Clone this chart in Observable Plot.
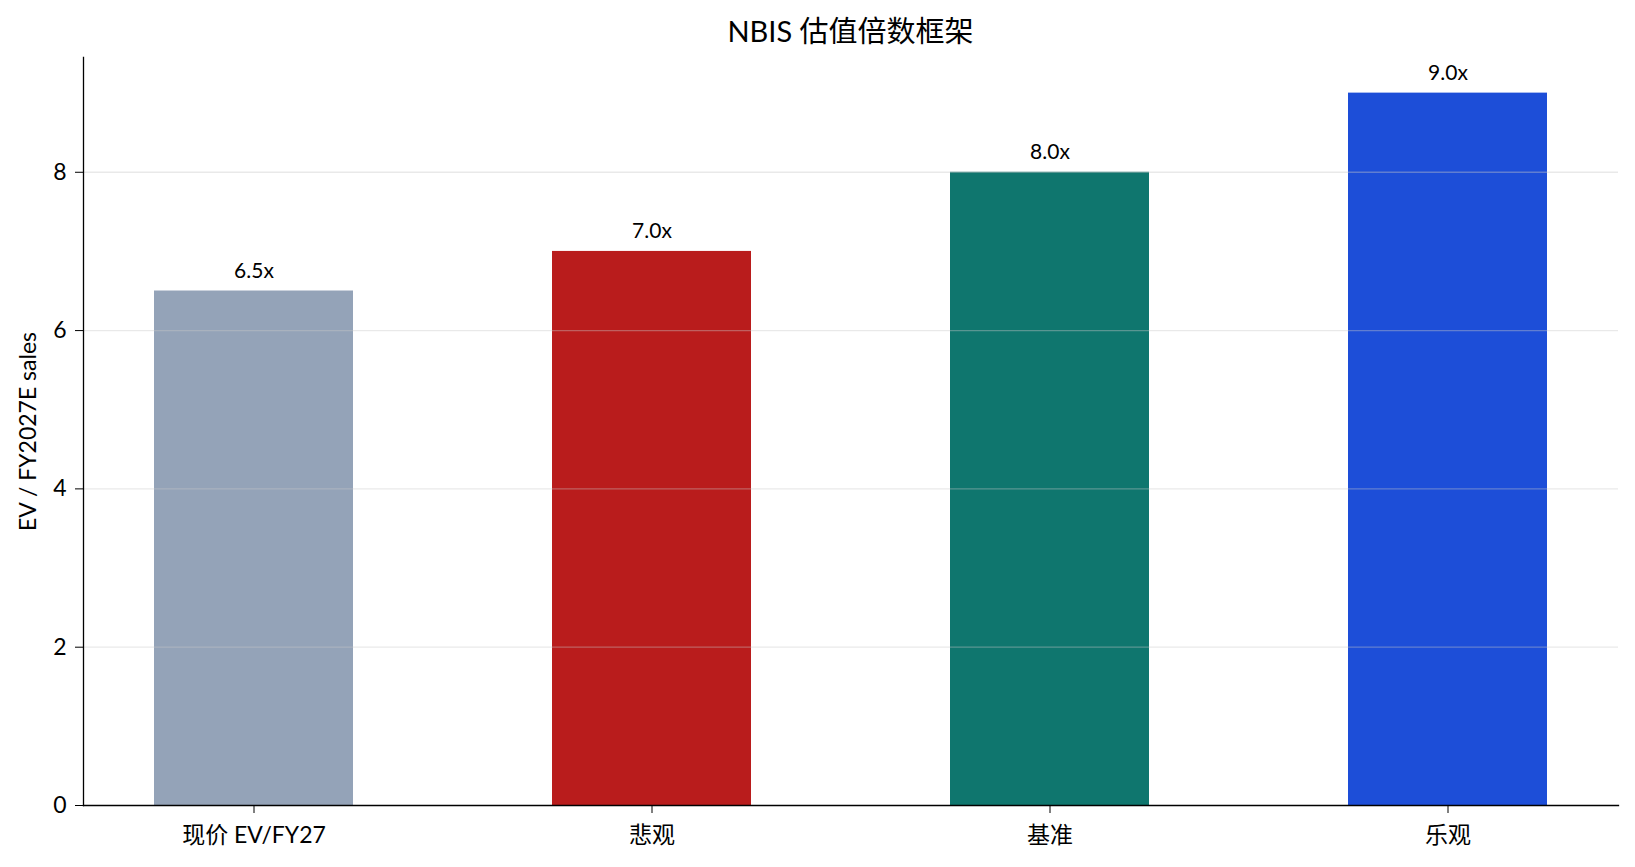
<!DOCTYPE html>
<html><head><meta charset="utf-8">
<script src="https://cdn.jsdelivr.net/npm/d3@7"></script>
<script src="https://cdn.jsdelivr.net/npm/@observablehq/plot@0.6"></script>
<style>
body{margin:0;background:#fff;font-family:Lato,"Noto Sans CJK SC",sans-serif;}
#title{height:50px;box-sizing:border-box;padding:16px 17px 0 83px;text-align:center;font-size:29px;line-height:30px;color:#000;}
</style></head><body>
<div id="title"></div>
<div id="chart"></div>
<script>
const title = "NBIS 估值倍数框架";
const yLabel = "EV / FY2027E sales";
const categories = ["现价 EV/FY27", "悲观", "基准", "乐观"];
const values = [6.5, 7.0, 8.0, 9.0];
const valueLabels = ["6.5x", "7.0x", "8.0x", "9.0x"];
const colors = ["#94A3B8", "#B91C1C", "#0F766E", "#1D4ED8"];
const yTicks = [0, 2, 4, 6, 8];
const yMax = 9.45;

document.getElementById("title").textContent = title;
const data = categories.map((c, i) => ({cat: c, value: values[i], label: valueLabels[i]}));
const font = 'Lato, "Noto Sans CJK SC", sans-serif';

const chart = Plot.plot({
  width: 1635, height: 817,
  marginTop: 7, marginBottom: 62, marginLeft: 83, marginRight: 17,
  style: {fontFamily: font, fontSize: "23px", color: "#000", background: "#fff"},
  x: {domain: categories, paddingInner: 0.5, paddingOuter: 0.175, align: 0.5, label: null},
  y: {domain: [0, yMax], label: null},
  color: {domain: categories, range: colors},
  marks: [
    Plot.barY(data, {x: "cat", y: "value", fill: "cat"}),
    Plot.gridY(yTicks.filter(d => d > 0), {stroke: "#c8c8c8", strokeOpacity: 0.4, strokeWidth: 1.3}),
    Plot.frame({anchor: "left", stroke: "#000", strokeWidth: 1.3}),
    Plot.frame({anchor: "bottom", stroke: "#000", strokeWidth: 1.3}),
    Plot.axisY({ticks: yTicks, tickSize: 8, tickPadding: 9, label: null, fontSize: 23, tickFormat: d => String(d)}),
    Plot.axisX({tickSize: 8, tickPadding: 13, label: null, fontSize: 23}),
    Plot.text(data, {x: "cat", y: "value", text: "label", lineAnchor: "bottom", dy: -13, fontSize: 21, fill: "#000"}),
    Plot.text([yLabel], {frameAnchor: "left", textAnchor: "middle", lineAnchor: "middle", rotate: -90, dx: -55, fontSize: 23, fill: "#000"})
  ]
});
document.getElementById("chart").appendChild(chart);
</script>
</body></html>
